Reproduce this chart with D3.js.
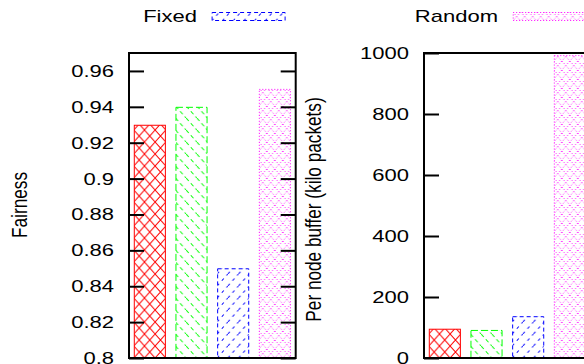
<!DOCTYPE html>
<html>
<head>
<meta charset="utf-8">
<script src="https://cdn.jsdelivr.net/npm/d3@7"></script>
<style>
  html, body { margin: 0; padding: 0; background: #fff; }
  svg { display: block; }
</style>
</head>
<body>
<div id="viz"></div>
<script>
// bar order in both panels (only the last two are in the visible key)
const series = ["s1", "s2", "Fixed", "Random"];
const colors = ["#ff0000", "#00ff00", "#0000ff", "#ff00ff"];
const fairness = [0.93, 0.94, 0.85, 0.95];
const bufferKilo = [96, 92, 137, 993];
const fairTicks = [0.8, 0.82, 0.84, 0.86, 0.88, 0.9, 0.92, 0.94, 0.96];
const bufTicks = [0, 200, 400, 600, 800, 1000];
const keyLabels = ["Fixed", "Random"];
const keySeries = [2, 3];

const W = 584, H = 364;
const FONT = "'Liberation Sans', Arial, Helvetica, sans-serif";
const FS = 17.2;
const SX = 1.28; // the picture is stretched sideways

const svg = d3.select("#viz").append("svg").attr("width", W).attr("height", H);
const defs = svg.append("defs");

// pattern fill + border style for each series
const borderDash = [null, "7,3", "4,3", "1,2"];

function makePattern(id, i, ox, oy) {
  const c = colors[i];
  let w = 32 / 3, h = 12;
  if (i === 3) { w = 8; h = 9; }
  const p = defs.append("pattern")
    .attr("id", id)
    .attr("patternUnits", "userSpaceOnUse")
    .attr("x", ox).attr("y", oy)
    .attr("width", w).attr("height", h);
  const st = (sel) => sel.attr("stroke", c).attr("stroke-width", 1).attr("fill", "none");
  if (i === 0) {
    st(p.append("path").attr("d", `M0,0L${w},${h}M${w},0L0,${h}`));
  } else if (i === 1) {
    st(p.append("path").attr("d", `M0,0L${w},${h}`)).attr("stroke-dasharray", "4,3");
  } else if (i === 2) {
    st(p.append("path").attr("d", `M0,${h}L${w},0`)).attr("stroke-dasharray", "3,4");
  } else {
    st(p.append("path").attr("d", `M0,0L${w},${h}M${w},0L0,${h}`)).attr("stroke-dasharray", "1,2");
  }
  return `url(#${id})`;
}

function stretchText(sel, x, y, rotate) {
  sel.attr("transform", `translate(${x},${y}) scale(${SX},1)` + (rotate ? " rotate(-90)" : ""))
    .attr("font-family", FONT)
    .attr("font-size", FS)
    .attr("fill", "#000");
  return sel;
}

function panel(name, left, values, domain, ticks, fmt, mirror) {
  const top = 53, bottom = 358, width = 166.7;
  const x = d3.scaleLinear().domain([-0.5, 3.5]).range([left, left + width]);
  const y = d3.scaleLinear().domain(domain).range([bottom, top]);
  const g = svg.append("g");
  const bw = 0.77;

  values.forEach((v, i) => {
    const x0 = x(i - bw / 2), x1 = x(i + bw / 2);
    const fill = makePattern(`${name}-p${i}`, i, x0, bottom);
    const r = g.append("rect")
      .attr("x", x0 + 0.5).attr("y", y(v) + 0.5)
      .attr("width", x1 - x0 - 1).attr("height", y(domain[0]) - y(v) - 0.5)
      .attr("fill", fill)
      .attr("stroke", colors[i])
      .attr("stroke-width", 1);
    if (borderDash[i]) r.attr("stroke-dasharray", borderDash[i]);
  });

  const ax = g.append("g").attr("transform", `translate(${left},0)`)
    .call(d3.axisLeft(y).tickValues(ticks).tickSize(-15).tickPadding(15).tickFormat(fmt));
  ax.select(".domain").remove();
  ax.selectAll(".tick line").attr("stroke", "#000").attr("stroke-width", 2);
  ax.selectAll(".tick text").each(function () {
    stretchText(d3.select(this), -15, 0, false).attr("x", 0).attr("text-anchor", "end");
  });

  if (mirror) {
    const ar = g.append("g").attr("transform", `translate(${left + width},0)`)
      .call(d3.axisRight(y).tickValues(ticks).tickSize(-15).tickFormat(""));
    ar.select(".domain").remove();
    ar.selectAll(".tick line").attr("stroke", "#000").attr("stroke-width", 2);
  }

  g.append("rect")
    .attr("x", left).attr("y", top)
    .attr("width", width).attr("height", bottom - top)
    .attr("fill", "none").attr("stroke", "#000").attr("stroke-width", 2);
}

panel("fair", 129, fairness, [0.8, 0.97], fairTicks, (d) => String(+d.toFixed(2)), true);
panel("buf", 424, bufferKilo, [0, 1000], bufTicks, d3.format("d"), false);

// axis titles
stretchText(svg.append("text"), 26.7, 205, true).attr("text-anchor", "middle").text("Fairness");
stretchText(svg.append("text"), 320.7, 209.5, true).attr("text-anchor", "middle")
  .text("Per node buffer (kilo packets)");

// key along the top
const keyTextRight = [197, 498];
const keySampleLeft = [211.6, 512.7];
keyLabels.forEach((lab, k) => {
  const i = keySeries[k];
  stretchText(svg.append("text"), keyTextRight[k], 22, false).attr("text-anchor", "end").text(lab);
  const fill = makePattern(`key-p${i}`, i, keySampleLeft[k], 21);
  const r = svg.append("rect")
    .attr("x", keySampleLeft[k] + 0.5).attr("y", 12.5)
    .attr("width", 73).attr("height", 8)
    .attr("fill", fill).attr("stroke", colors[i]).attr("stroke-width", 1);
  if (borderDash[i]) r.attr("stroke-dasharray", borderDash[i]);
});
</script>
</body>
</html>
